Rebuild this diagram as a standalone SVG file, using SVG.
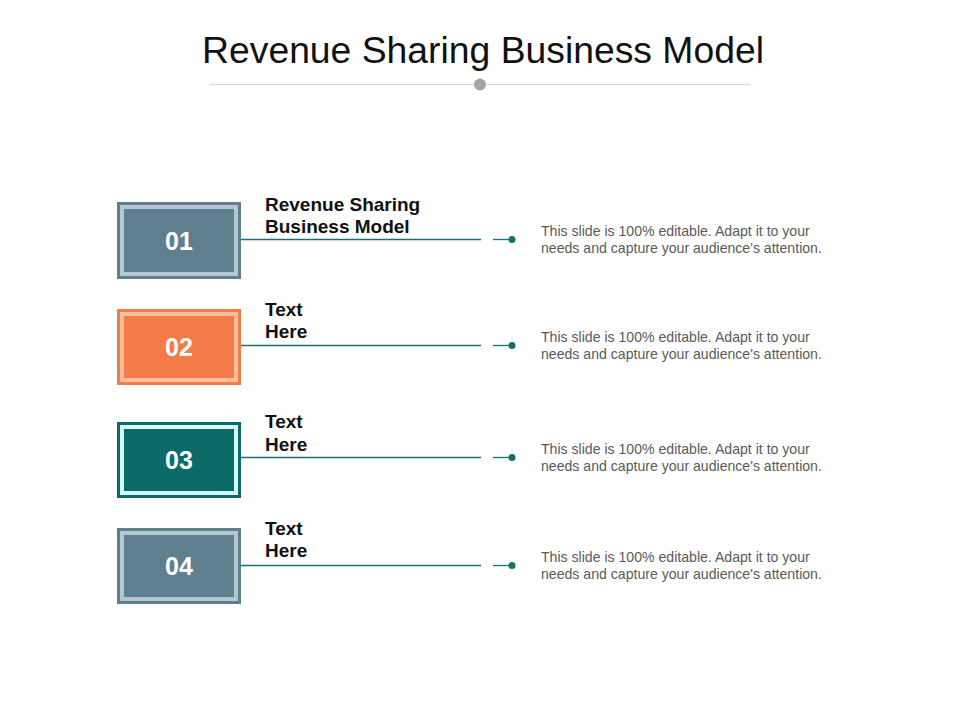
<svg xmlns="http://www.w3.org/2000/svg" width="960" height="720" viewBox="0 0 960 720">
<style>
.title{font-family:"Liberation Sans",Arial,sans-serif;font-size:37.3px;fill:#111;}
.num{font-family:"Liberation Sans",Arial,sans-serif;font-size:25px;font-weight:bold;fill:#fff;text-anchor:middle;}
.head{font-family:"Liberation Sans",Arial,sans-serif;font-size:19px;font-weight:bold;fill:#111;}
.desc{font-family:"Liberation Sans",Arial,sans-serif;font-size:14.1px;fill:#5a5a5a;}
.band{fill:none;stroke-width:4;}
.conn{stroke:#1b6f73;stroke-width:1.3;fill:none;}
.dot{fill:#127169;}
.slate .outer,.slate .fill{fill:#5f7f8e;}
.slate .band{stroke:#b4c7cf;}
.orange .outer{fill:#f47b47;}
.orange .band{stroke:#fbbf9f;}
.teal .outer{fill:#0c6b68;}
.teal .band{stroke:#d2fbf6;}
</style>
<rect width="960" height="720" fill="#fff"/>
<g id="title">
<text class="title" x="483" y="63" text-anchor="middle">Revenue Sharing Business Model</text>
<line x1="210" y1="84.5" x2="750" y2="84.5" stroke="#d6d6d6" stroke-width="1.2"/>
<circle cx="480" cy="84.5" r="6" fill="#a6a6a6"/>
</g>
<g id="connectors">
<line class="conn" x1="241" y1="239.5" x2="481" y2="239.5"/>
<line class="conn" x1="493" y1="239.5" x2="512" y2="239.5"/>
<circle class="dot" cx="512" cy="239.5" r="3.5"/>
<line class="conn" x1="241" y1="345.5" x2="481" y2="345.5"/>
<line class="conn" x1="493" y1="345.5" x2="512" y2="345.5"/>
<circle class="dot" cx="512" cy="345.5" r="3.5"/>
<line class="conn" x1="241" y1="457.5" x2="481" y2="457.5"/>
<line class="conn" x1="493" y1="457.5" x2="512" y2="457.5"/>
<circle class="dot" cx="512" cy="457.5" r="3.5"/>
<line class="conn" x1="241" y1="565.5" x2="481" y2="565.5"/>
<line class="conn" x1="493" y1="565.5" x2="512" y2="565.5"/>
<circle class="dot" cx="512" cy="565.5" r="3.5"/>
</g>
<g id="node1" class="slate">
<rect class="outer" x="117" y="202" width="124" height="77"/>
<rect class="band" x="122" y="207" width="114" height="67"/>
<text class="num" x="179" y="249.5">01</text>
<text class="head" x="265" y="210.5">Revenue Sharing</text>
<text class="head" x="265" y="232.5">Business Model</text>
<text class="desc" x="541" y="235.5">This slide is 100% editable. Adapt it to your</text>
<text class="desc" x="541" y="252.5">needs and capture your audience's attention.</text>
</g>
<g id="node2" class="orange">
<rect class="outer" x="117" y="309" width="124" height="76"/>
<rect class="band" x="122" y="314" width="114" height="66"/>
<text class="num" x="179" y="356">02</text>
<text class="head" x="265" y="316">Text</text>
<text class="head" x="265" y="338">Here</text>
<text class="desc" x="541" y="341.5">This slide is 100% editable. Adapt it to your</text>
<text class="desc" x="541" y="358.5">needs and capture your audience's attention.</text>
</g>
<g id="node3" class="teal">
<rect class="outer" x="117" y="422" width="124" height="76"/>
<rect class="band" x="122" y="427" width="114" height="66"/>
<text class="num" x="179" y="469">03</text>
<text class="head" x="265" y="428">Text</text>
<text class="head" x="265" y="450.5">Here</text>
<text class="desc" x="541" y="453.5">This slide is 100% editable. Adapt it to your</text>
<text class="desc" x="541" y="470.5">needs and capture your audience's attention.</text>
</g>
<g id="node4" class="slate">
<rect class="outer" x="117" y="528" width="124" height="76"/>
<rect class="band" x="122" y="533" width="114" height="66"/>
<text class="num" x="179" y="575">04</text>
<text class="head" x="265" y="535">Text</text>
<text class="head" x="265" y="557">Here</text>
<text class="desc" x="541" y="561.5">This slide is 100% editable. Adapt it to your</text>
<text class="desc" x="541" y="578.5">needs and capture your audience's attention.</text>
</g>
</svg>
